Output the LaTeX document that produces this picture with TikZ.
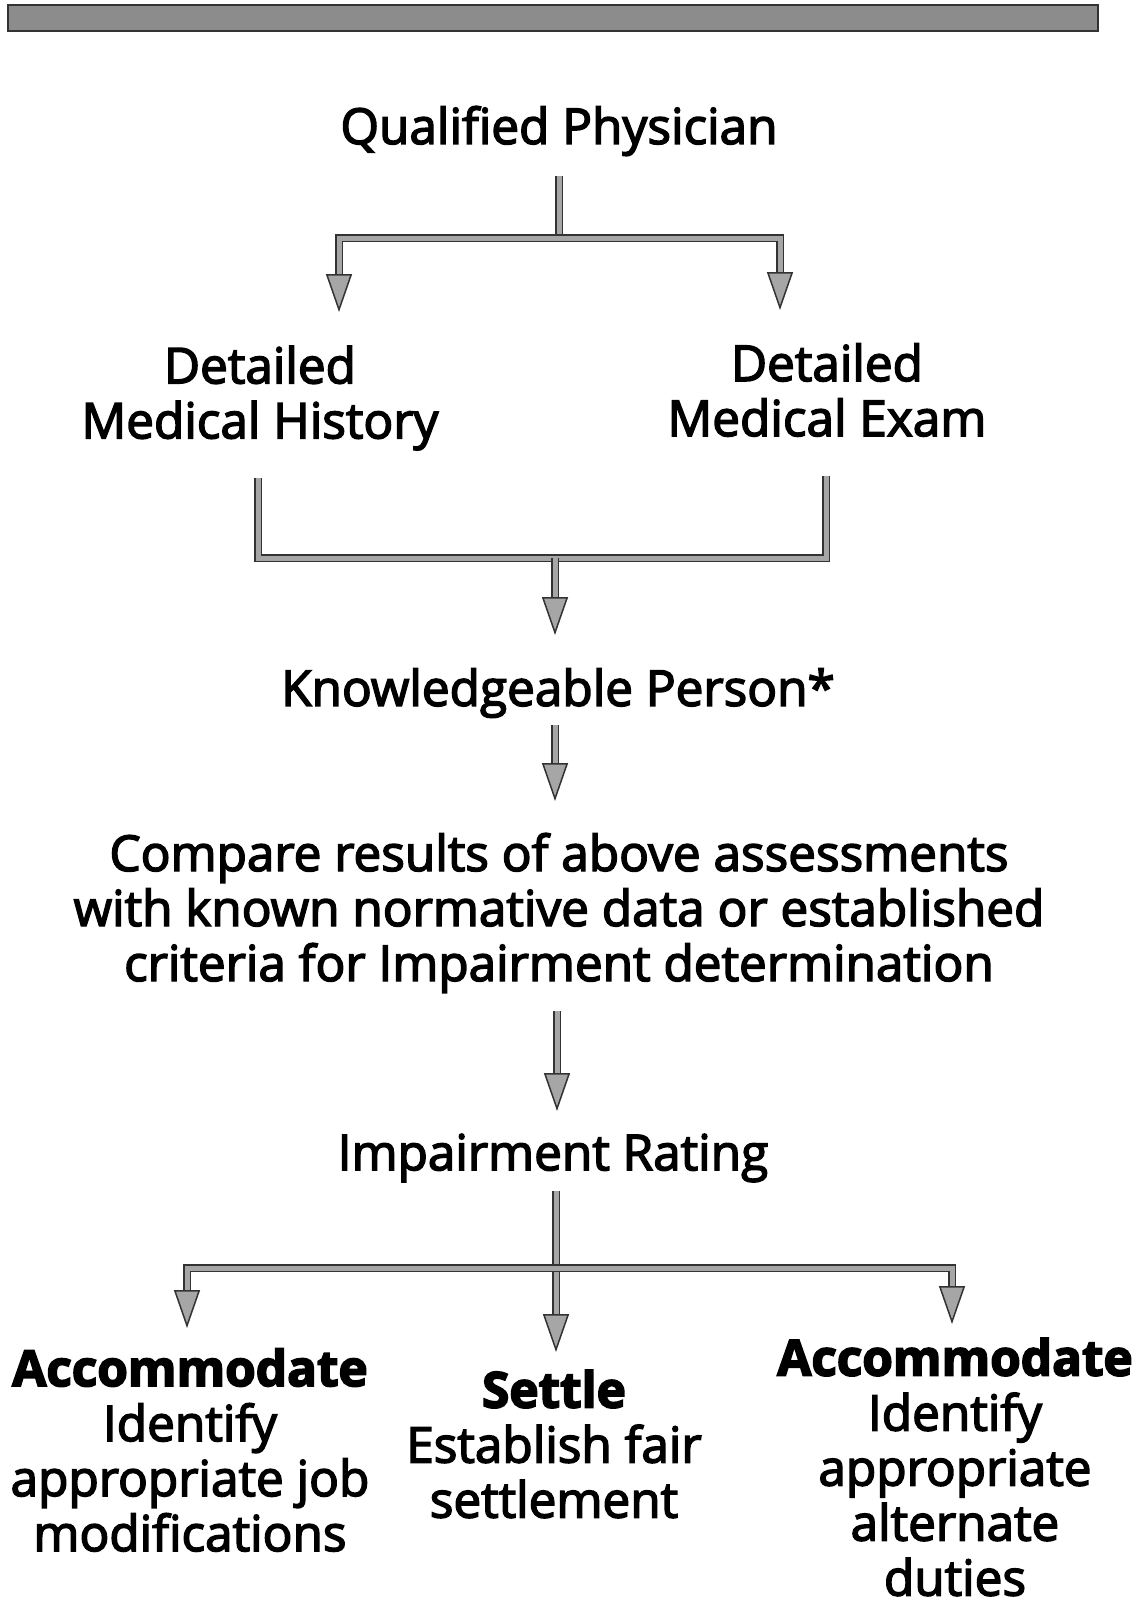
\documentclass[tikz,border=0pt]{standalone}
\usepackage{fontspec}
\usetikzlibrary{arrows.meta}
\newfontfamily\medf{Open Sans}[FakeBold=3, BoldFeatures={FakeBold=3.5}]
\tikzset{
  txt/.style={font=\medf\fontsize{49.5}{55}\selectfont, align=center, inner sep=0pt},
  shaft/.style={draw=black!80, line width=1.5pt, double=black!35, double distance=5pt},
  arr/.style={shaft, -{Triangle[width=26pt,length=38pt,fill=black!35]}}
}
\begin{document}
\begin{tikzpicture}[x=1pt,y=-1pt]
\useasboundingbox (0,0) rectangle (1144,1606);
\fill[white] (0,0) rectangle (1144,1606);
\draw[fill=black!45, draw=black!80, line width=1.5pt] (8,5) rectangle (1098,31);

\node[txt] (qp) at (559,131) {Qualified Physician};
\node[txt] (hist) at (260,398) {Detailed\\Medical History};
\node[txt] (exam) at (827,390) {Detailed\\Medical Exam};
\node[txt] (kp) at (558,693) {Knowledgeable Person*};
\node[txt] (cmp) at (559,913) {Compare results of above assessments\\with known normative data or established\\criteria for Impairment determination};
\node[txt] (ir) at (553,1158) {Impairment Rating};
\node[txt] (acc1) at (190,1450) {\bfseries Accommodate\\Identify\\appropriate job\\modifications};
\node[txt] (settle) at (554,1444) {\bfseries Settle\\Establish fair\\settlement};
\node[txt] (acc2) at (955,1467) {\bfseries Accommodate\\Identify\\appropriate\\alternate\\duties};

\coordinate (q0) at (559,176);
\coordinate (q1) at (559,238);
\coordinate (h0) at (339,238);
\coordinate (h1) at (339,312);
\coordinate (e0) at (780,238);
\coordinate (e1) at (780,310);
\draw[shaft] (q0) -- (q1);
\draw[arr] (q1) -- (h0) -- (h1);
\draw[arr] (q1) -- (e0) -- (e1);

\coordinate (hb) at (258,478);
\coordinate (eb) at (826,476);
\coordinate (m0) at (555,558);
\coordinate (m1) at (555,635);
\draw[shaft] (hb) |- (m0);
\draw[shaft] (eb) |- (m0);
\draw[arr] (m0) -- (m1);

\coordinate (k0) at (555,725);
\coordinate (k1) at (555,801);
\draw[arr] (k0) -- (k1);

\coordinate (c0) at (557,1011);
\coordinate (c1) at (557,1111);
\draw[arr] (c0) -- (c1);

\coordinate (r0) at (556,1191);
\coordinate (r1) at (556,1268);
\coordinate (s1) at (556,1352);
\coordinate (a1) at (187,1328);
\coordinate (a2) at (952,1324);
\draw[shaft] (r0) -- (r1);
\draw[arr] (r1) -- (s1);
\draw[arr] (r1) -| (a1);
\draw[arr] (r1) -| (a2);
\end{tikzpicture}
\end{document}
